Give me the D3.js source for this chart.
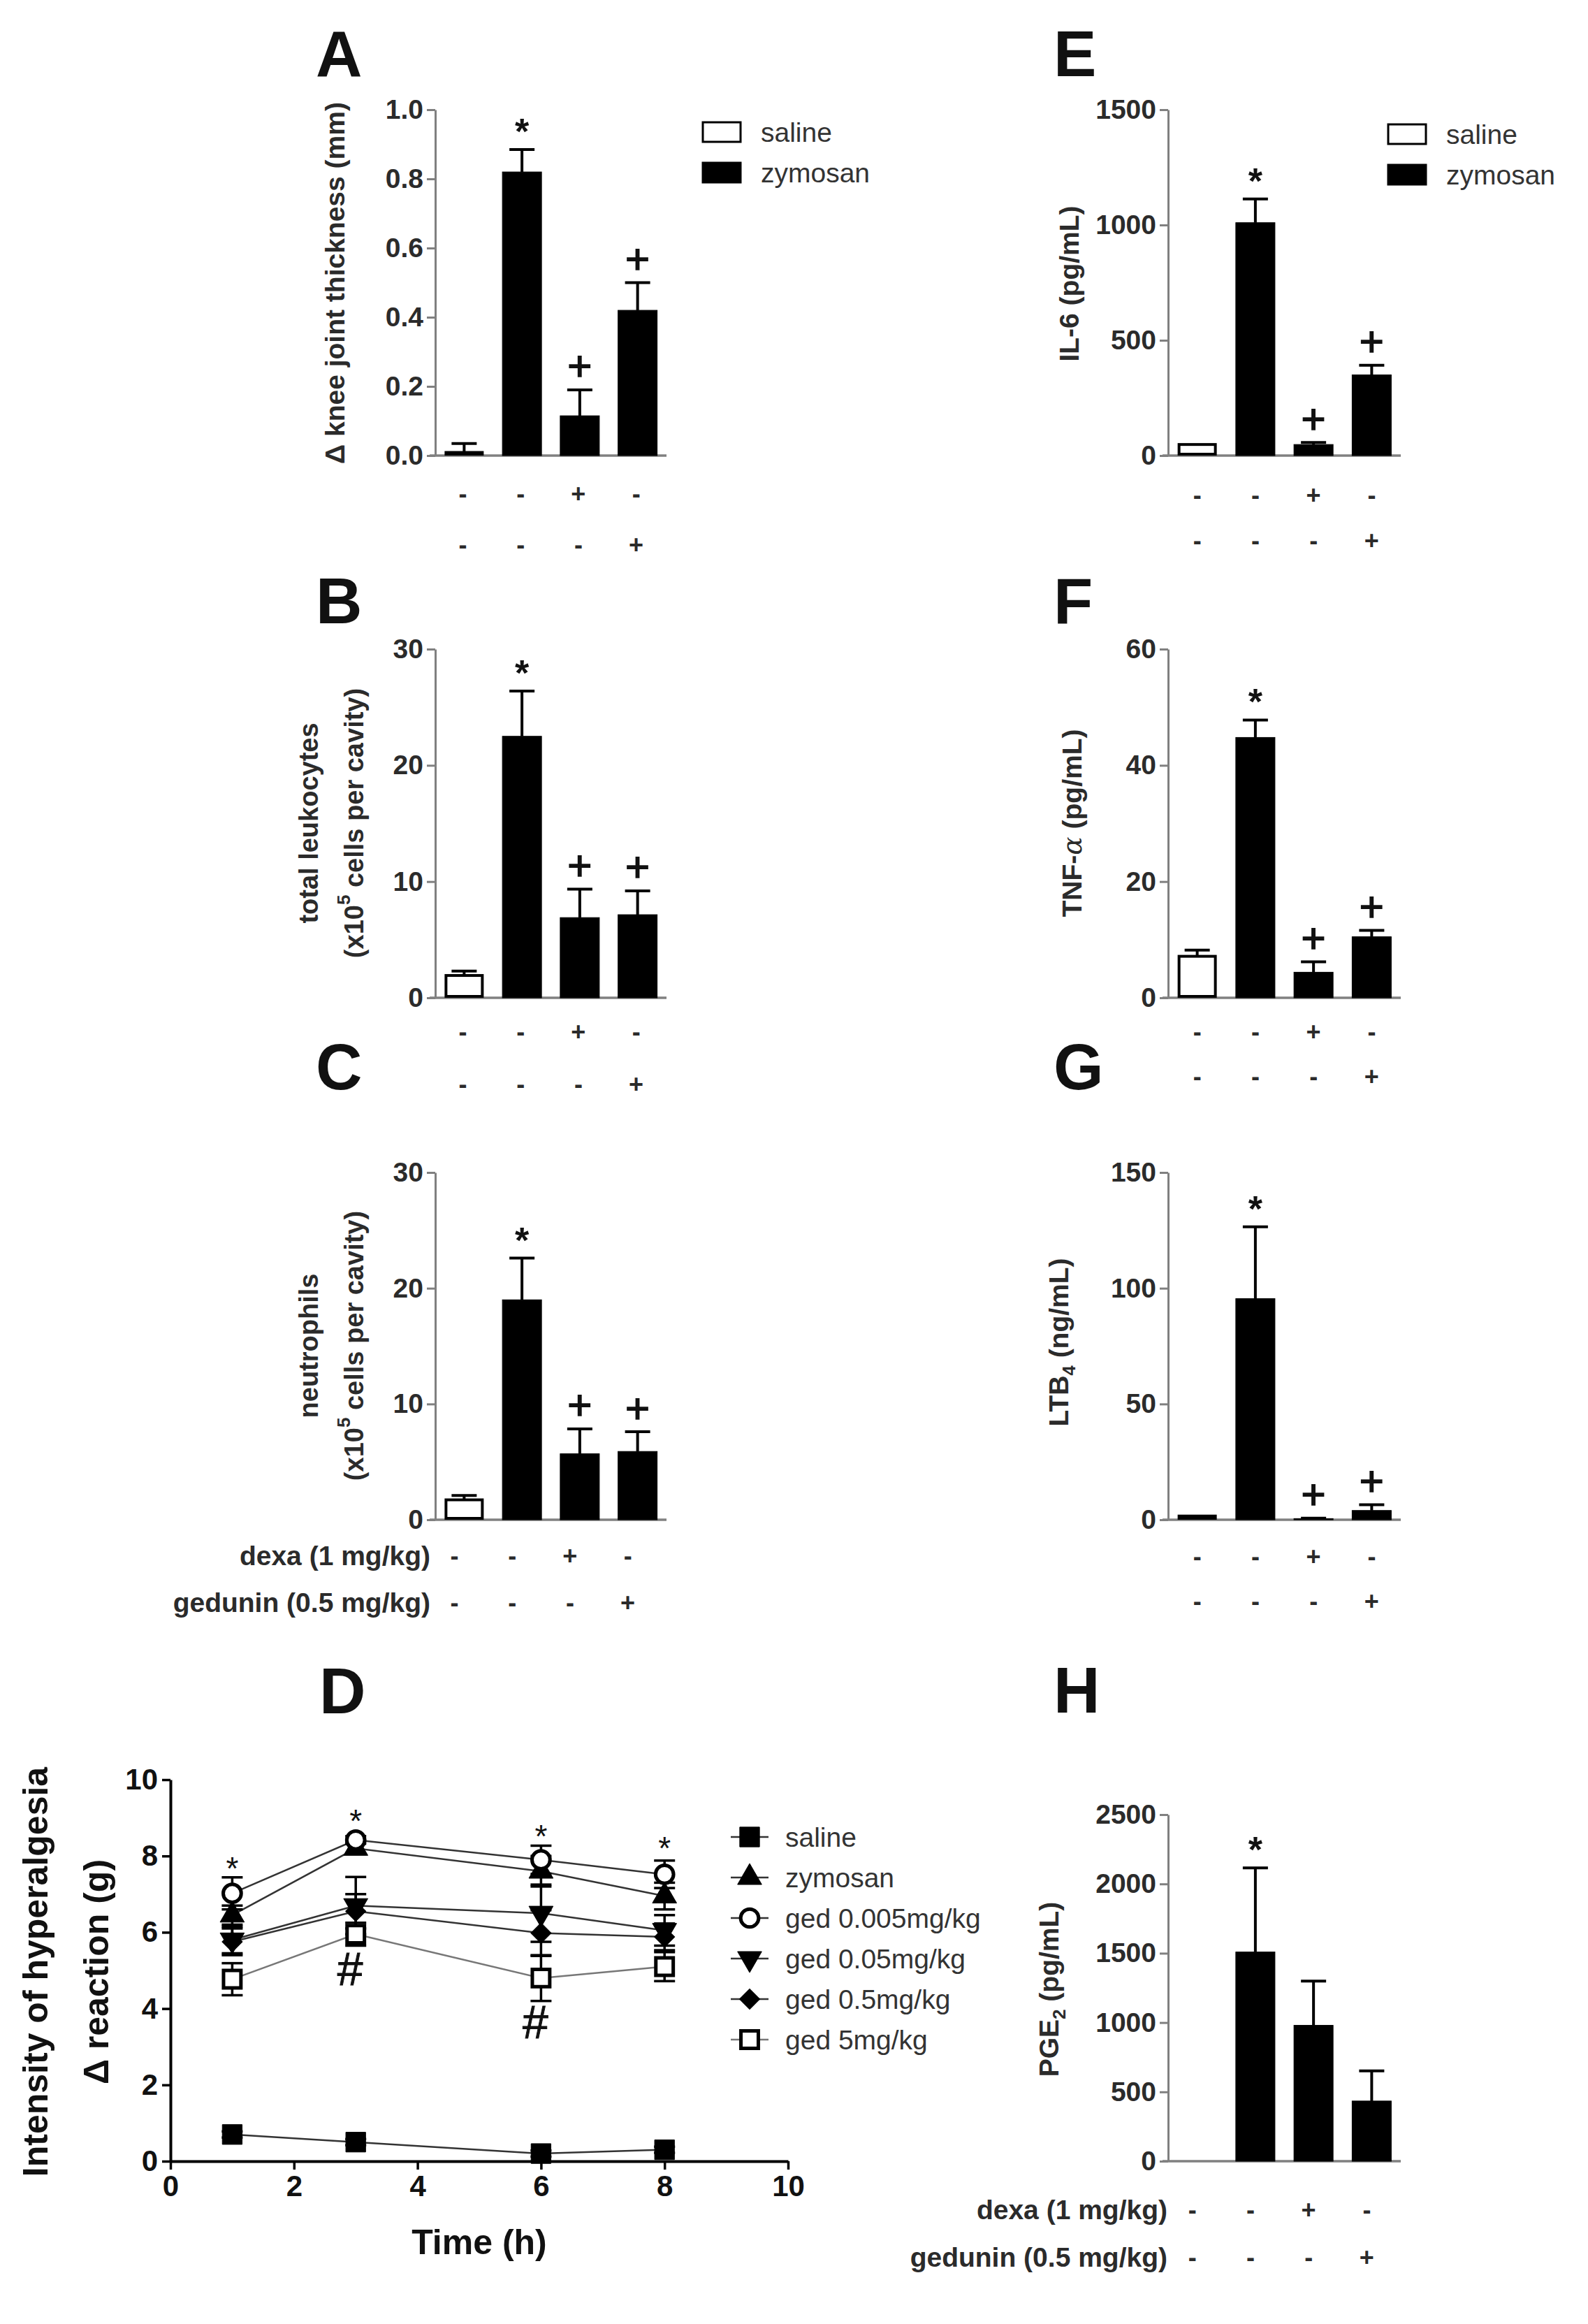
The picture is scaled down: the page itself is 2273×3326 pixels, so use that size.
<!DOCTYPE html>
<html><head><meta charset="utf-8">
<script src="https://cdn.jsdelivr.net/npm/d3@7"></script>
<style>
body{margin:0;background:#fff}
svg{display:block}
text{font-family:"Liberation Sans",Arial,Helvetica,sans-serif}
</style>
</head><body>
<svg id="fig" width="2273" height="3326"></svg>
<script>
// ---------------- DATA ----------------
const groups = ["saline", "zymosan", "zymosan + dexa", "zymosan + gedunin"];
const dexaSigns = ["-", "-", "+", "-"];
const gedSigns = ["-", "-", "-", "+"];
const legendNames = ["saline", "zymosan"];

const kneeMean = [0.005, 0.82, 0.115, 0.42];
const kneeErr  = [0.03, 0.065, 0.075, 0.08];
const kneeTicks = [0, 0.2, 0.4, 0.6, 0.8, 1.0];
const kneeMarks = ["", "*", "+", "+"];

const leukMean = [1.8, 22.5, 6.9, 7.15];
const leukErr  = [0.5, 3.9, 2.45, 2.05];
const leukTicks = [0, 10, 20, 30];
const leukMarks = ["", "*", "+", "+"];

const neutMean = [1.6, 19.0, 5.7, 5.9];
const neutErr  = [0.5, 3.6, 2.15, 1.7];
const neutTicks = [0, 10, 20, 30];
const neutMarks = ["", "*", "+", "+"];

const il6Mean = [42, 1010, 48, 350];
const il6Err  = [0, 103, 9, 42];
const il6Ticks = [0, 500, 1000, 1500];
const il6Marks = ["", "*", "+", "+"];

const tnfMean = [6.9, 44.8, 4.4, 10.5];
const tnfErr  = [1.3, 3.0, 1.8, 1.1];
const tnfTicks = [0, 20, 40, 60];
const tnfMarks = ["", "*", "+", "+"];

const ltbMean = [1.0, 95.5, 0.5, 4.0];
const ltbErr  = [0.3, 31, 0.2, 2.5];
const ltbTicks = [0, 50, 100, 150];
const ltbMarks = ["", "*", "+", "+"];

const pgeMean = [0, 1509, 980, 434];
const pgeErr  = [0, 607, 319, 217];
const pgeTicks = [0, 500, 1000, 1500, 2000, 2500];
const pgeMarks = ["", "*", "", ""];

// hyperalgesia time course (panel D)
const times = [1, 3, 6, 8];
const timeTicks = [0, 2, 4, 6, 8, 10];
const hypTicks = [0, 2, 4, 6, 8, 10];
const seriesNames = ["saline", "zymosan", "ged 0.005mg/kg", "ged 0.05mg/kg", "ged 0.5mg/kg", "ged 5mg/kg"];
const salineD   = [0.70, 0.50, 0.20, 0.30];
const zymosanD  = [6.45, 8.20, 7.60, 6.95];
const ged0005D  = [7.02, 8.42, 7.90, 7.52];
const ged005D   = [5.80, 6.70, 6.50, 6.05];
const ged05D    = [5.75, 6.55, 5.98, 5.88];
const ged5D     = [4.77, 5.95, 4.80, 5.10];
const salineErrD  = [0.08, 0.08, 0.08, 0.08];
const zymosanErrD = [0.25, 0.15, 0.40, 0.35];
const ged0005ErrD = [0.42, 0.10, 0.37, 0.36];
const ged005ErrD  = [0.35, 0.75, 0.75, 0.40];
const ged05ErrD   = [0.35, 0.45, 0.60, 0.35];
const ged5ErrD    = [0.42, 0.30, 0.60, 0.38];
const starTimes = [1, 3, 6, 8];
const starLevels = [7.86, 9.1, 8.7, 8.38];
const hashTimes = [3, 6];
const hashLevels = [5.03, 3.65];

// ---------------- DRAWING ----------------
const svg = d3.select("#fig");
svg.append("rect").attr("width", 2273).attr("height", 3326).attr("fill", "#fff");
const TXT = "#2b2b2b";
const AX = "#808080";

function panelLetter(letter, x, baseline) {
  svg.append("text").attr("x", x).attr("y", baseline)
    .attr("font-size", 92).attr("font-weight", "bold").attr("fill", "#111").text(letter);
}

function yTitle(lines, x, yc, size) {
  lines.forEach((ln, i) => {
    const t = svg.append("text")
      .attr("transform", `translate(${ln.x},${yc}) rotate(-90)`)
      .attr("text-anchor", "middle").attr("dominant-baseline", "central")
      .attr("font-size", size || 39).attr("font-weight", "bold").attr("fill", TXT);
    ln.parts.forEach(p => {
      const s = t.append("tspan").text(p.t);
      if (p.sup) s.attr("baseline-shift", "super").attr("font-size", 26);
      if (p.sub) s.attr("baseline-shift", "sub").attr("font-size", 26);
      if (p.thin) s.attr("font-weight", "normal").attr("font-family", "DejaVu Serif").attr("font-style", "italic");
    });
  });
}

function barPanel(p) {
  const g = svg.append("g");
  const x = d3.scalePoint().domain(groups).range([p.left, p.right]).padding(0.5);
  const y = d3.scaleLinear().domain([0, p.max]).range([p.bottom, p.top]);
  const bw = 56;

  const ya = g.append("g").attr("transform", `translate(${p.left},0)`)
    .call(d3.axisLeft(y).tickValues(p.ticks).tickSize(12).tickSizeOuter(0).tickPadding(5).tickFormat(p.fmt));
  ya.select(".domain").attr("stroke", AX).attr("stroke-width", 3);
  ya.selectAll(".tick line").attr("stroke", AX).attr("stroke-width", 3);
  ya.selectAll(".tick text").attr("font-size", 39).attr("font-weight", "bold").attr("fill", TXT);

  g.append("line").attr("x1", p.left - 8).attr("x2", p.right).attr("y1", y(0)).attr("y2", y(0))
    .attr("stroke", AX).attr("stroke-width", 3.5);

  const data = groups.map((k, i) => ({k, i, m: p.mean[i], e: p.err[i], mark: p.marks[i]}));

  // error bars
  data.filter(d => d.e > 0).forEach(d => {
    const cx = x(d.k);
    g.append("line").attr("x1", cx).attr("x2", cx).attr("y1", y(d.m)).attr("y2", y(d.m + d.e))
      .attr("stroke", "#000").attr("stroke-width", 4);
    g.append("line").attr("x1", cx - 18).attr("x2", cx + 18).attr("y1", y(d.m + d.e)).attr("y2", y(d.m + d.e))
      .attr("stroke", "#000").attr("stroke-width", 4);
  });

  // bars
  g.selectAll("rect.bar").data(data.filter(d => d.m > 0)).join("rect")
    .attr("class", "bar")
    .attr("x", d => x(d.k) - bw / 2 + (d.i === 0 ? 2 : 0))
    .attr("width", d => bw - (d.i === 0 ? 4 : 0))
    .attr("y", d => y(d.m) - (d.i === 0 ? 2 : 0))
    .attr("height", d => Math.max(0, y(0) - y(d.m)))
    .attr("fill", d => d.i === 0 ? "#fff" : "#000")
    .attr("stroke", "#000")
    .attr("stroke-width", d => d.i === 0 ? 4 : 1);

  // significance marks
  data.filter(d => d.mark).forEach(d => {
    const top = y(d.m + d.e);
    const star = d.mark === "*";
    g.append("text").attr("x", x(d.k)).attr("y", top - 34)
      .attr("text-anchor", "middle").attr("dominant-baseline", "central")
      .attr("font-size", star ? 52 : 60).attr("font-weight", star ? "bold" : "normal")
      .attr("fill", "#111").attr("stroke", star ? "none" : "#111").attr("stroke-width", 1.6)
      .attr("dy", star ? 8 : 0).text(d.mark);
  });

  // treatment rows
  const rows = [dexaSigns, gedSigns];
  rows.forEach((signs, r) => {
    signs.forEach((s, i) => {
      g.append("text").attr("x", x(groups[i]) + p.signDx).attr("y", y(0) + p.rowY[r])
        .attr("text-anchor", "middle").attr("dominant-baseline", "central")
        .attr("font-size", 36).attr("font-weight", "bold").attr("fill", TXT).text(s);
    });
    if (p.rowLabels) {
      g.append("text").attr("x", p.rowLabelX).attr("y", y(0) + p.rowY[r])
        .attr("text-anchor", "end").attr("dominant-baseline", "central")
        .attr("font-size", 39).attr("font-weight", "bold").attr("fill", TXT).text(p.rowLabels[r]);
    }
  });

  if (p.legend) {
    legendNames.forEach((n, i) => {
      g.append("rect").attr("x", p.legend.x).attr("y", p.legend.y + i * 58).attr("width", 54).attr("height", 28)
        .attr("fill", i === 0 ? "#fff" : "#000").attr("stroke", "#000").attr("stroke-width", 3);
      g.append("text").attr("x", p.legend.x + 83).attr("y", p.legend.y + 14 + i * 58)
        .attr("dominant-baseline", "central").attr("font-size", 39).attr("fill", "#333").text(n);
    });
  }
  return {x, y};
}

const rowLabelsTxt = ["dexa (1 mg/kg)", "gedunin (0.5 mg/kg)"];
const fmt1 = d3.format(".1f"), fmt0 = d3.format("d");

// Panel A
panelLetter("A", 452, 109);
barPanel({left: 623, right: 954, top: 157, bottom: 652, max: 1.0, ticks: kneeTicks, fmt: fmt1,
  mean: kneeMean, err: kneeErr, marks: kneeMarks, rowY: [54, 127], signDx: -2,
  legend: {x: 1006, y: 175}});
yTitle([{x: 479, parts: [{t: "\u0394 knee joint thickness (mm)"}]}], 0, 405);

// Panel B
panelLetter("B", 452, 892);
barPanel({left: 623, right: 954, top: 929, bottom: 1428, max: 30, ticks: leukTicks, fmt: fmt0,
  mean: leukMean, err: leukErr, marks: leukMarks, rowY: [48, 123], signDx: -2});
yTitle([{x: 442, parts: [{t: "total leukocytes"}]},
        {x: 507, parts: [{t: "(x10"}, {t: "5", sup: true}, {t: " cells per cavity)"}]}], 0, 1178, 38);

// Panel C
panelLetter("C", 452, 1559);
barPanel({left: 623, right: 954, top: 1678, bottom: 2175, max: 30, ticks: neutTicks, fmt: fmt0,
  mean: neutMean, err: neutErr, marks: neutMarks, rowY: [51, 118], signDx: -14,
  rowLabels: rowLabelsTxt, rowLabelX: 616});
yTitle([{x: 442, parts: [{t: "neutrophils"}]},
        {x: 507, parts: [{t: "(x10"}, {t: "5", sup: true}, {t: " cells per cavity)"}]}], 0, 1926, 38);

// Panel E
panelLetter("E", 1508, 109);
barPanel({left: 1672, right: 2005, top: 157, bottom: 652, max: 1500, ticks: il6Ticks, fmt: fmt0,
  mean: il6Mean, err: il6Err, marks: il6Marks, rowY: [56, 121], signDx: 0,
  legend: {x: 1987, y: 178}});
yTitle([{x: 1530, parts: [{t: "IL-6 (pg/mL)"}]}], 0, 406);

// Panel F
panelLetter("F", 1508, 892);
barPanel({left: 1672, right: 2005, top: 929, bottom: 1428, max: 60, ticks: tnfTicks, fmt: fmt0,
  mean: tnfMean, err: tnfErr, marks: tnfMarks, rowY: [48, 112], signDx: 0});
yTitle([{x: 1534, parts: [{t: "TNF-"}, {t: "\u03b1", thin: true}, {t: " (pg/mL)"}]}], 0, 1178);

// Panel G
panelLetter("G", 1508, 1559);
barPanel({left: 1672, right: 2005, top: 1678, bottom: 2175, max: 150, ticks: ltbTicks, fmt: fmt0,
  mean: ltbMean, err: ltbErr, marks: ltbMarks, rowY: [52, 116], signDx: 0});
yTitle([{x: 1515, parts: [{t: "LTB"}, {t: "4", sub: true}, {t: " (ng/mL)"}]}], 0, 1921);

// Panel H
panelLetter("H", 1508, 2451);
barPanel({left: 1672, right: 2005, top: 2597, bottom: 3093, max: 2500, ticks: pgeTicks, fmt: fmt0,
  mean: pgeMean, err: pgeErr, marks: pgeMarks, rowY: [69, 137], signDx: -7,
  rowLabels: rowLabelsTxt, rowLabelX: 1671});
yTitle([{x: 1501, parts: [{t: "PGE"}, {t: "2", sub: true}, {t: " (pg/mL)"}]}], 0, 2847);

// Panel D
panelLetter("D", 457, 2452);
(function () {
  const g = svg.append("g");
  const x = d3.scaleLinear().domain([0, 10]).range([244, 1128]);
  const y = d3.scaleLinear().domain([0, 10]).range([3093, 2547]);

  const ya = g.append("g").attr("transform", `translate(${x(0)},0)`)
    .call(d3.axisLeft(y).tickValues(hypTicks).tickSize(12).tickSizeOuter(0).tickPadding(6).tickFormat(d3.format("d")));
  const xa = g.append("g").attr("transform", `translate(0,${y(0)})`)
    .call(d3.axisBottom(x).tickValues(timeTicks).tickSize(12).tickSizeOuter(0).tickPadding(8).tickFormat(d3.format("d")));
  [ya, xa].forEach(a => {
    a.select(".domain").attr("stroke", "#000").attr("stroke-width", 4);
    a.selectAll(".tick line").attr("stroke", "#000").attr("stroke-width", 3.5);
    a.selectAll(".tick text").attr("font-size", 42).attr("font-weight", "bold").attr("fill", "#111");
  });

  g.append("text").attr("x", 686).attr("y", 3226).attr("text-anchor", "middle")
    .attr("font-size", 50).attr("font-weight", "bold").attr("fill", "#111").text("Time (h)");
  [{x: 51, t: "Intensity of hyperalgesia"}, {x: 138, t: "\u0394 reaction (g)"}].forEach(l => {
    g.append("text").attr("transform", `translate(${l.x},2822) rotate(-90)`)
      .attr("text-anchor", "middle").attr("dominant-baseline", "central")
      .attr("font-size", 50).attr("font-weight", "bold").attr("fill", "#111").text(l.t);
  });

  const series = [
    {name: seriesNames[0], v: salineD,  e: salineErrD,  sym: d3.symbolSquare,   size: 800, fill: "#000", rot: 0,   line: "#333"},
    {name: seriesNames[1], v: zymosanD, e: zymosanErrD, sym: d3.symbolTriangle, size: 520, fill: "#000", rot: 0,   line: "#333"},
    {name: seriesNames[2], v: ged0005D, e: ged0005ErrD, sym: d3.symbolCircle,   size: 520, fill: "#fff", rot: 0,   line: "#333"},
    {name: seriesNames[3], v: ged005D,  e: ged005ErrD,  sym: d3.symbolTriangle, size: 520, fill: "#000", rot: 180, line: "#333"},
    {name: seriesNames[4], v: ged05D,   e: ged05ErrD,   sym: d3.symbolSquare,   size: 420, fill: "#000", rot: 45,  line: "#333"},
    {name: seriesNames[5], v: ged5D,    e: ged5ErrD,    sym: d3.symbolSquare,   size: 620, fill: "#fff", rot: 0,   line: "#777"}
  ];
  const line = d3.line().x(d => x(d.t)).y(d => y(d.v));
  series.forEach(s => {
    const pts = times.map((t, i) => ({t, v: s.v[i], e: s.e[i]}));
    g.append("path").attr("d", line(pts)).attr("fill", "none").attr("stroke", s.line).attr("stroke-width", 2.5);
  });
  series.forEach(s => {
    times.forEach((t, i) => {
      const cx = x(t), lo = y(s.v[i] - s.e[i]), hi = y(s.v[i] + s.e[i]);
      g.append("line").attr("x1", cx).attr("x2", cx).attr("y1", lo).attr("y2", hi).attr("stroke", "#000").attr("stroke-width", 3.5);
      [lo, hi].forEach(yy => g.append("line").attr("x1", cx - 15).attr("x2", cx + 15).attr("y1", yy).attr("y2", yy)
        .attr("stroke", "#000").attr("stroke-width", 3.5));
    });
  });
  const symPath = s => d3.symbol().type(s.sym).size(s.size)();
  series.forEach(s => {
    times.forEach((t, i) => {
      g.append("path").attr("d", symPath(s))
        .attr("transform", `translate(${x(t)},${y(s.v[i])}) rotate(${s.rot})`)
        .attr("fill", s.fill).attr("stroke", "#000").attr("stroke-width", s.fill === "#fff" ? 5 : 1);
    });
  });
  starTimes.forEach((t, i) => {
    g.append("text").attr("x", x(t)).attr("y", y(starLevels[i])).attr("dy", 10)
      .attr("text-anchor", "middle").attr("dominant-baseline", "central")
      .attr("font-size", 46).attr("fill", "#111").text("*");
  });
  hashTimes.forEach((t, i) => {
    g.append("text").attr("x", x(t) - 8).attr("y", y(hashLevels[i]))
      .attr("text-anchor", "middle").attr("dominant-baseline", "central")
      .attr("font-size", 66).attr("fill", "#111").attr("stroke", "#111").attr("stroke-width", 1)
      .text("#");
  });

  // legend
  series.forEach((s, i) => {
    const ly = 2629 + i * 58;
    g.append("line").attr("x1", 1046).attr("x2", 1100).attr("y1", ly).attr("y2", ly).attr("stroke", s.line).attr("stroke-width", 2.5);
    g.append("path").attr("d", symPath(s)).attr("transform", `translate(1073,${ly}) rotate(${s.rot})`)
      .attr("fill", s.fill).attr("stroke", "#000").attr("stroke-width", s.fill === "#fff" ? 5 : 1);
    g.append("text").attr("x", 1124).attr("y", ly).attr("dominant-baseline", "central")
      .attr("font-size", 39).attr("fill", "#333").text(s.name);
  });
})();
</script>
</body></html>
